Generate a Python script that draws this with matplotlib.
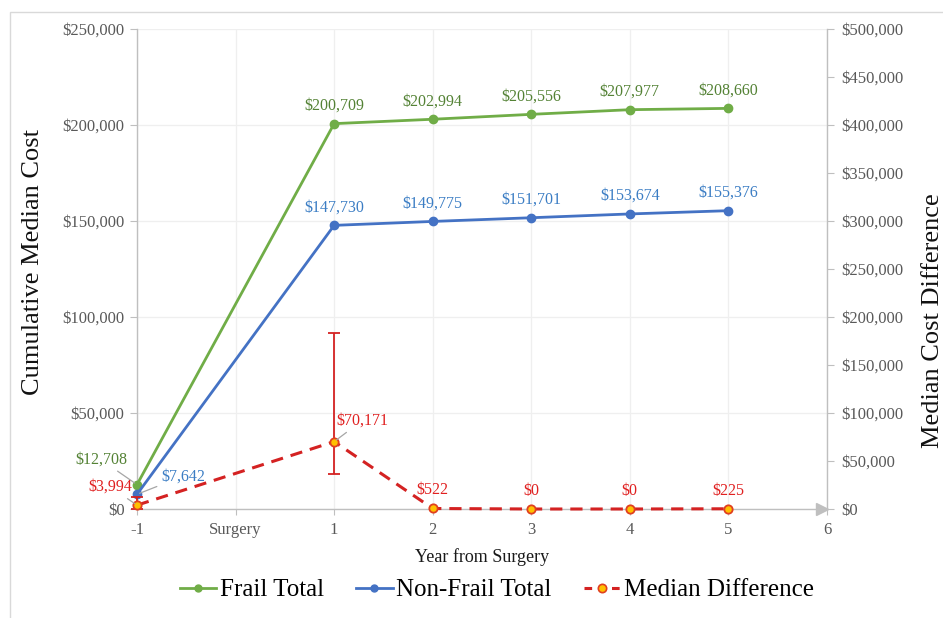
import matplotlib
matplotlib.use('Agg')
import matplotlib.pyplot as plt
from matplotlib.lines import Line2D
from matplotlib.patches import Rectangle
from matplotlib.ticker import FuncFormatter

plt.rcParams['font.family'] = ['Liberation Serif', 'DejaVu Serif']

# ---------------- data ----------------
years = [-1, 1, 2, 3, 4, 5]
frail_total = [12708, 200709, 202994, 205556, 207977, 208660]
nonfrail_total = [7642, 147730, 149775, 151701, 153674, 155376]
median_diff = [3994, 70171, 522, 0, 0, 225]
diff_err_low = [3994, 33700, 0, 0, 0, 0]
diff_err_high = [8500, 113000, 0, 0, 0, 0]
x_ticks = [-1, 0, 1, 2, 3, 4, 5, 6]
x_tick_labels = ['-1', 'Surgery', '1', '2', '3', '4', '5', '6']
left_ticks = list(range(0, 250001, 50000))
right_ticks = list(range(0, 500001, 50000))

# ---------------- styles ----------------
GREEN = '#70ad47'
GREEN_TXT = '#548235'
BLUE = '#4472c4'
BLUE_TXT = '#3b7dc4'
RED = '#d42222'
RED_TXT = '#e02020'
GOLD = '#ffc000'
SPINE = '#bfbfbf'
TICKTXT = '#595959'
GRID = '#efefef'

fig = plt.figure(figsize=(9.43, 6.18), dpi=100)
ax = fig.add_axes([137/943, 1-509/618, 690/943, 480/618])
ax2 = ax.twinx()

ax.set_xlim(-1, 6)
ax.set_ylim(0, 250000)
ax2.set_ylim(0, 500000)

money = FuncFormatter(lambda v, p: '${:,.0f}'.format(v))
ax.set_yticks(left_ticks)
ax2.set_yticks(right_ticks)
ax.yaxis.set_major_formatter(money)
ax2.yaxis.set_major_formatter(money)
ax.set_xticks(x_ticks)
ax.set_xticklabels(x_tick_labels)
for lab in ax.get_xticklabels():
    if lab.get_text() == 'Surgery':
        lab.set_color('#1a1a1a')

ax.grid(True, color=GRID, lw=0.9)
ax.set_axisbelow(True)

for s in ['top', 'right']:
    ax.spines[s].set_visible(False)
for s in ['top', 'left', 'bottom']:
    ax2.spines[s].set_visible(False)
ax.spines['left'].set_color(SPINE)
ax.spines['bottom'].set_color(SPINE)
ax2.spines['right'].set_color(SPINE)
for s in [ax.spines['left'], ax.spines['bottom'], ax2.spines['right']]:
    s.set_linewidth(1.0)

ax.tick_params(axis='y', length=5, color=SPINE, labelcolor=TICKTXT, labelsize=12, pad=4)
ax.tick_params(axis='x', length=4, color=SPINE, labelcolor=TICKTXT, labelsize=12, pad=5)
ax2.tick_params(axis='y', length=5, color=SPINE, labelcolor=TICKTXT, labelsize=12, pad=5)

# arrow at end of x axis
ax.plot([1 - 5/690], [0], marker='>', color=SPINE, ms=9, transform=ax.transAxes,
        clip_on=False, zorder=3)

# series
ax.plot(years, frail_total, color=GREEN, lw=2.0, marker='o', ms=6, clip_on=False, zorder=4)
ax.plot(years, nonfrail_total, color=BLUE, lw=2.0, marker='o', ms=6, clip_on=False, zorder=4)

idx = [i for i in range(len(years)) if diff_err_high[i] > 0]
ax2.errorbar([years[i] for i in idx], [median_diff[i] for i in idx],
             yerr=[[diff_err_low[i] for i in idx], [diff_err_high[i] for i in idx]],
             fmt='none', ecolor=RED, elinewidth=1.3, capsize=4, capthick=1.3,
             clip_on=False, zorder=3)
ax2.plot(years, median_diff, color=RED, lw=2.2, ls=(0, (4, 2.6)), marker='o', ms=6,
         mfc=GOLD, mec='#e04020', mew=1.3, clip_on=False, zorder=5)

# data labels
LBL = 11.5
lead = dict(arrowstyle='-', color='#a6a6a6', lw=0.9, shrinkA=1, shrinkB=2)

def lab(axx, x, y, txt, color, dx=0, dy=13, arrow=False):
    axx.annotate(txt, (x, y), xytext=(dx, dy), textcoords='offset points',
                 ha='center', va='center', fontsize=LBL, color=color,
                 arrowprops=lead if arrow else None, annotation_clip=False, zorder=6)

for i, (x, y) in enumerate(zip(years, frail_total)):
    if i == 0:
        lab(ax, x, y, '${:,}'.format(y), GREEN_TXT, dx=-26, dy=18, arrow=True)
    else:
        lab(ax, x, y, '${:,}'.format(y), GREEN_TXT)
for i, (x, y) in enumerate(zip(years, nonfrail_total)):
    if i == 0:
        lab(ax, x, y, '${:,}'.format(y), BLUE_TXT, dx=33, dy=13, arrow=True)
    else:
        lab(ax, x, y, '${:,}'.format(y), BLUE_TXT)
for i, (x, y) in enumerate(zip(years, median_diff)):
    if i == 0:
        lab(ax2, x, y, '${:,}'.format(y), RED_TXT, dx=-19, dy=13, arrow=True)
    elif i == 1:
        lab(ax2, x, y, '${:,}'.format(y), RED_TXT, dx=20, dy=15, arrow=True)
    else:
        lab(ax2, x, y, '${:,}'.format(y), RED_TXT)

# axis labels
ax.set_xlabel('Year from Surgery', fontsize=13, color='#1a1a1a', labelpad=8)
fig.text(33/943, 1-262/618, 'Cumulative Median Cost', rotation=90, fontsize=19,
         ha='center', va='center', color='#111111')
fig.text(933/943, 1-321/618, 'Median Cost Difference', rotation=90, fontsize=19,
         ha='center', va='center', color='#111111')

# legend
handles = [
    Line2D([], [], color=GREEN, lw=2.0, marker='o', ms=5),
    Line2D([], [], color=BLUE, lw=2.0, marker='o', ms=5),
    Line2D([], [], color=RED, lw=2.2, ls=(0, (2.5, 2)), marker='o', ms=6,
           mfc=GOLD, mec='#e04020', mew=1.2),
]
fig.legend(handles, ['Frail Total', 'Non-Frail Total', 'Median Difference'],
           loc='center', bbox_to_anchor=(497/943, 1-590/618), ncol=3, frameon=False,
           fontsize=18, handlelength=1.45, handletextpad=0.15, columnspacing=1.3)

# outer border
fig.add_artist(Rectangle((10/943, -0.05), 1.1, 1 - 12/618 + 0.05, transform=fig.transFigure,
                         fill=False, ec='#d9d9d9', lw=1.0))

fig.savefig('out.png', dpi=100)
